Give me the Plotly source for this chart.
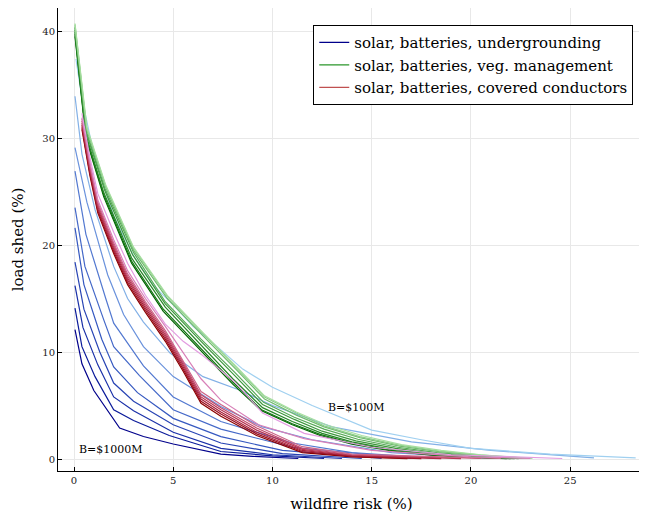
import plotly.graph_objects as go

# ---- data: underground (blue), budget B = $1000M ... $100M ----
UG_X = [
    [0.05, 0.4, 1.0, 1.65, 2.3, 3.5, 5.0, 7.4, 9.0, 11.3],
    [0.05, 0.4, 1.06, 2.0, 3.0, 4.8, 7.4, 10.0, 12.6],
    [0.05, 0.45, 1.2, 2.0, 3.0, 5.0, 7.4, 10.0, 13.5],
    [0.05, 0.5, 1.3, 2.0, 3.0, 5.0, 7.4, 10.5, 14.5],
    [0.05, 0.5, 1.4, 2.0, 3.2, 5.0, 7.4, 10.5, 15.5],
    [0.05, 0.55, 1.5, 2.0, 3.3, 5.0, 7.4, 11.0, 17.0],
    [0.05, 0.6, 1.6, 2.0, 3.5, 5.0, 7.4, 11.0, 14.0, 18.5],
    [0.05, 0.65, 1.7, 2.5, 3.5, 5.0, 7.4, 9.5, 12.0, 16.0, 21.0],
    [0.05, 0.4, 1.06, 2.0, 2.7, 3.5, 4.84, 6.5, 8.4, 10.0, 13.0, 17.0, 21.0, 26.2],
    [0.1, 0.4, 1.0, 2.0, 3.0, 4.0, 5.0, 6.0, 7.4, 8.5, 10.0, 12.0, 15.0, 17.5, 20.0, 24.0, 28.3],
]
UG_Y = [
    [12.1, 8.9, 6.4, 4.6, 2.9, 2.1, 1.4, 0.45, 0.25, 0.05],
    [14.1, 10.5, 7.7, 4.6, 3.6, 2.2, 0.7, 0.3, 0.05],
    [16.2, 12.3, 8.8, 5.8, 4.5, 2.5, 1.0, 0.4, 0.05],
    [18.4, 14.0, 10.0, 7.1, 5.4, 3.2, 1.5, 0.5, 0.05],
    [21.6, 16.3, 11.2, 8.6, 6.2, 3.8, 2.1, 0.8, 0.05],
    [23.5, 18.0, 13.0, 10.5, 7.8, 4.6, 2.8, 1.1, 0.05],
    [26.9, 21.0, 15.0, 12.7, 8.7, 5.8, 3.5, 1.5, 0.6, 0.05],
    [29.1, 24.0, 17.2, 13.5, 10.5, 7.7, 4.9, 3.0, 1.8, 0.6, 0.05],
    [33.9, 28.5, 23.3, 18.0, 15.0, 12.8, 9.9, 7.7, 6.4, 5.0, 3.0, 1.6, 0.8, 0.1],
    [37.4, 33.7, 28.5, 22.7, 19.0, 16.2, 14.4, 12.4, 10.2, 8.4, 6.7, 5.0, 2.7, 1.8, 1.0, 0.45, 0.1],
]
UG_COLORS = ["#00008b", "#0a1a9a", "#1a30a8", "#2844b4", "#3558c0",
             "#4468c8", "#5278d0", "#6a92dc", "#82b0e6", "#a0d0f0"]

# ---- data: vegetation management (green) ----
VM_X = [
    [0.05, 0.6, 1.5, 2.9, 4.5, 6.3, 8.0, 9.45, 11.0, 12.4, 14.0, 16.0, 18.0, 20.0, 21.8],
    [0.05, 0.6, 1.5, 2.9, 4.5, 6.3, 8.0, 9.45, 11.0, 12.4, 14.0, 16.0, 18.0, 20.0, 22.0],
    [0.05, 0.6, 1.5, 2.9, 4.6, 6.4, 8.0, 9.5, 11.0, 12.5, 14.0, 16.0, 18.0, 20.0, 22.2],
    [0.05, 0.62, 1.55, 2.95, 4.6, 6.4, 8.1, 9.5, 11.1, 12.5, 14.2, 16.2, 18.2, 20.2, 22.4],
    [0.05, 0.62, 1.55, 3.0, 4.6, 6.4, 8.1, 9.55, 11.1, 12.6, 14.3, 16.3, 18.3, 20.3, 22.6],
    [0.05, 0.64, 1.6, 3.0, 4.7, 6.5, 8.2, 9.6, 11.2, 12.6, 14.4, 16.4, 18.4, 20.4, 22.8],
    [0.05, 0.64, 1.6, 3.0, 4.7, 6.5, 8.2, 9.6, 11.2, 12.6, 14.4, 16.4, 18.4, 20.4, 23.0],
    [0.05, 0.65, 1.6, 3.0, 4.7, 6.5, 8.2, 9.6, 11.2, 12.7, 14.5, 16.5, 18.5, 20.5, 23.1],
]
VM_Y = [
    [39.5, 30.0, 24.5, 18.3, 13.8, 10.3, 7.0, 4.5, 3.2, 2.2, 1.4, 0.75, 0.35, 0.15, 0.03],
    [39.7, 30.1, 24.7, 18.5, 14.0, 10.5, 7.2, 4.6, 3.3, 2.3, 1.5, 0.8, 0.4, 0.17, 0.03],
    [39.9, 30.3, 24.9, 18.8, 14.2, 10.7, 7.5, 4.8, 3.5, 2.4, 1.6, 0.9, 0.45, 0.2, 0.04],
    [40.1, 30.5, 25.1, 19.1, 14.5, 11.0, 7.8, 5.1, 3.7, 2.6, 1.7, 1.0, 0.5, 0.25, 0.04],
    [40.3, 30.6, 25.3, 19.3, 14.7, 11.2, 8.1, 5.3, 3.9, 2.8, 1.85, 1.1, 0.6, 0.3, 0.05],
    [40.4, 30.8, 25.4, 19.5, 15.0, 11.5, 8.3, 5.6, 4.1, 3.0, 2.0, 1.2, 0.7, 0.35, 0.05],
    [40.6, 30.9, 25.5, 19.7, 15.2, 11.7, 8.5, 5.8, 4.3, 3.1, 2.1, 1.3, 0.75, 0.38, 0.05],
    [40.7, 31.0, 25.6, 19.8, 15.3, 11.8, 8.6, 5.9, 4.4, 3.2, 2.2, 1.35, 0.8, 0.4, 0.05],
]
VM_COLORS = ["#006400", "#127512", "#268626", "#3c973c", "#56a956",
             "#70bb6e", "#8ccd88", "#a6dea0"]

# ---- data: covered conductors (red) ----
CC_X = [
    [0.4, 0.8, 1.2, 2.0, 2.7, 3.6, 4.6, 5.5, 6.4, 7.4, 9.2, 11.5, 14.0, 16.8],
    [0.4, 0.8, 1.2, 2.0, 2.7, 3.6, 4.6, 5.5, 6.4, 7.4, 9.2, 11.5, 14.0, 17.5],
    [0.4, 0.8, 1.2, 2.0, 2.7, 3.6, 4.6, 5.5, 6.4, 7.4, 9.2, 11.5, 14.0, 18.5],
    [0.4, 0.8, 1.2, 2.0, 2.7, 3.6, 4.6, 5.5, 6.4, 7.4, 9.2, 11.5, 14.0, 19.5],
    [0.4, 0.8, 1.2, 2.0, 2.7, 3.6, 4.6, 5.5, 6.4, 7.4, 9.2, 11.5, 14.0, 20.5],
    [0.4, 0.8, 1.2, 2.0, 2.7, 3.6, 4.6, 5.5, 6.4, 7.4, 9.2, 11.5, 14.0, 21.5],
    [0.4, 0.8, 1.2, 2.0, 2.7, 3.6, 4.6, 5.5, 6.4, 7.4, 9.3, 11.6, 15.0, 20.0, 23.0],
    [0.4, 0.8, 1.2, 2.0, 2.7, 3.6, 4.6, 5.5, 6.4, 8.1, 9.5, 11.6, 15.0, 19.0, 24.6],
]
CC_Y = [
    [30.8, 26.5, 23.0, 19.2, 16.3, 13.7, 11.0, 8.2, 5.2, 4.0, 2.2, 0.6, 0.2, 0.03],
    [31.0, 26.7, 23.2, 19.4, 16.5, 13.9, 11.2, 8.4, 5.4, 4.2, 2.35, 0.7, 0.25, 0.03],
    [31.2, 26.9, 23.4, 19.6, 16.7, 14.1, 11.4, 8.6, 5.6, 4.4, 2.5, 0.8, 0.3, 0.04],
    [31.4, 27.1, 23.6, 19.8, 16.9, 14.3, 11.6, 8.8, 5.8, 4.6, 2.7, 0.9, 0.35, 0.04],
    [31.6, 27.3, 23.8, 20.0, 17.1, 14.5, 11.8, 9.0, 6.0, 4.8, 2.9, 1.0, 0.4, 0.05],
    [31.8, 27.5, 24.0, 20.2, 17.3, 14.7, 12.0, 9.2, 6.3, 5.1, 3.1, 1.15, 0.45, 0.05],
    [31.9, 27.8, 24.2, 20.5, 17.6, 15.0, 12.4, 10.0, 7.5, 5.5, 3.2, 1.9, 0.8, 0.2, 0.05],
    [32.3, 28.2, 24.8, 21.2, 18.3, 15.3, 12.6, 11.0, 9.8, 7.2, 4.3, 2.4, 1.1, 0.4, 0.05],
]
CC_COLORS = ["#8b0000", "#9a0f1f", "#a8203a", "#b53250", "#c04868",
             "#cc6488", "#d880b8", "#e39be0"]

LEGEND_NAMES = ["solar, batteries, undergrounding",
                "solar, batteries, veg. management",
                "solar, batteries, covered conductors"]
LEGEND_COLORS = ["#00008b", "#2a962a", "#c05050"]

ANNOT_TEXT = ["B=$1000M", "B=$100M"]
ANNOT_X = [1.86, 14.23]
ANNOT_Y = [0.93, 4.86]

FONT = "DejaVu Serif"

fig = go.Figure()
for xs, ys, c in zip(UG_X, UG_Y, UG_COLORS):
    fig.add_trace(go.Scatter(x=xs, y=ys, mode="lines", line=dict(color=c, width=1.2),
                             showlegend=False, hoverinfo="skip"))
for xs, ys, c in zip(VM_X, VM_Y, VM_COLORS):
    fig.add_trace(go.Scatter(x=xs, y=ys, mode="lines", line=dict(color=c, width=1.2),
                             showlegend=False, hoverinfo="skip"))
for xs, ys, c in zip(CC_X, CC_Y, CC_COLORS):
    fig.add_trace(go.Scatter(x=xs, y=ys, mode="lines", line=dict(color=c, width=1.2),
                             showlegend=False, hoverinfo="skip"))
for name, c in zip(LEGEND_NAMES, LEGEND_COLORS):
    fig.add_trace(go.Scatter(x=[None], y=[None], mode="lines", name=name,
                             line=dict(color=c, width=1.2)))

for t, ax, ay in zip(ANNOT_TEXT, ANNOT_X, ANNOT_Y):
    fig.add_annotation(x=ax, y=ay, text=t, showarrow=False,
                       font=dict(family=FONT, size=11, color="black"))

axis_common = dict(showline=True, linecolor="black", linewidth=1, mirror=False,
                   ticks="inside", ticklen=4, tickcolor="black", automargin=False,
                   showgrid=True, gridcolor="#e8e8e8", gridwidth=1, zeroline=False,
                   tickfont=dict(family=FONT, size=10, color="#222"))

# page adds an 8px body margin, so the figure is sized to fit the window
fig.update_layout(
    width=639, height=505,
    margin=dict(l=50, r=2, t=0, b=42),
    paper_bgcolor="white", plot_bgcolor="white",
    font=dict(family=FONT, color="black"),
    xaxis=dict(range=[-0.806, 28.77], tickvals=[0, 5, 10, 15, 20, 25],
               title=dict(text="wildfire risk (%)", font=dict(family=FONT, size=15)),
               **axis_common),
    yaxis=dict(range=[-1.12, 42.15], tickvals=[0, 10, 20, 30, 40],
               title=dict(text="load shed (%)", font=dict(family=FONT, size=15)),
               **axis_common),
    legend=dict(x=0.98, y=0.963, xanchor="right", yanchor="top",
                bgcolor="white", bordercolor="black", borderwidth=1,
                font=dict(family=FONT, size=15), tracegroupgap=0,
                itemwidth=30),
)

fig.write_html("out.html")
